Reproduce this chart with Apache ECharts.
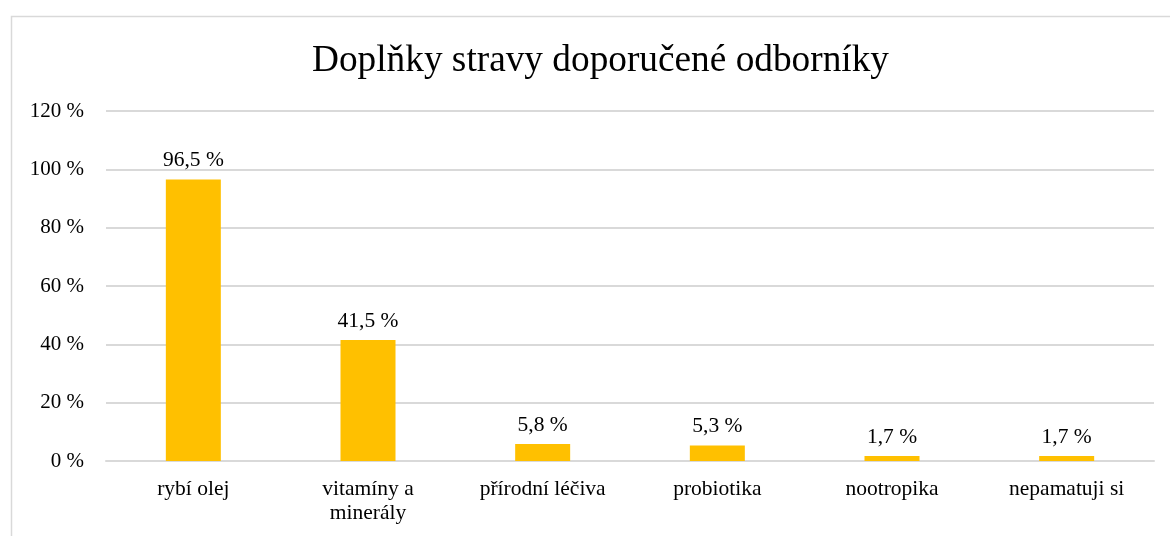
<html lang="cs">
<head>
    <meta charset="UTF-8">
    <title>Doplňky stravy</title>
    <script src="https://cdn.jsdelivr.net/npm/echarts@6/dist/echarts.min.js"></script>
    <style>
        body { margin: 0; background: #fff; }
    </style>
</head>
<body>
<div id="main" style="width: 1170px;height:536px;"></div>
<script type="text/javascript">
    var categories = ['rybí olej', 'vitamíny a\nminerály', 'přírodní léčiva', 'probiotika', 'nootropika', 'nepamatuji si'];
    var values = [96.5, 41.5, 5.8, 5.3, 1.7, 1.7];
    var font = 'Liberation Serif';

    var myChart = echarts.init(document.getElementById('main'));
    var option = {
        animation: false,
        backgroundColor: '#fff',
        graphic: [{
            type: 'rect',
            left: 9,
            top: 14,
            shape: { width: 1300, height: 700 },
            style: { fill: 'none', stroke: '#d9d9d9', lineWidth: 1.5 },
            silent: true
        }],
        title: {
            text: 'Doplňky stravy doporučené odborníky',
            left: 307,
            top: 38,
            textStyle: { fontFamily: font, fontSize: 37.3, fontWeight: 'normal', color: '#000' }
        },
        grid: { left: 106, right: 16, top: 111, bottom: 75 },
        xAxis: {
            type: 'category',
            data: categories,
            axisLine: { lineStyle: { color: '#d9d9d9', width: 2 } },
            axisTick: { show: false },
            axisLabel: { fontFamily: font, fontSize: 21.5, color: '#000', margin: 16, lineHeight: 24, interval: 0 }
        },
        yAxis: {
            type: 'value',
            min: 0,
            max: 120,
            interval: 20,
            axisLine: { show: false },
            axisTick: { show: false },
            splitLine: { lineStyle: { color: '#d9d9d9', width: 2 } },
            axisLabel: {
                fontFamily: font, fontSize: 21, color: '#000', margin: 22,
                formatter: function (v) { return v + ' %'; }
            }
        },
        series: [{
            type: 'bar',
            data: values,
            barWidth: 55,
            itemStyle: { color: '#ffc000' },
            label: {
                show: true,
                position: 'top',
                distance: 8,
                fontFamily: font,
                fontSize: 21.5,
                color: '#000',
                formatter: function (p) { return String(p.value).replace('.', ',') + ' %'; }
            }
        }]
    };
    myChart.setOption(option);
</script>
</body>
</html>
